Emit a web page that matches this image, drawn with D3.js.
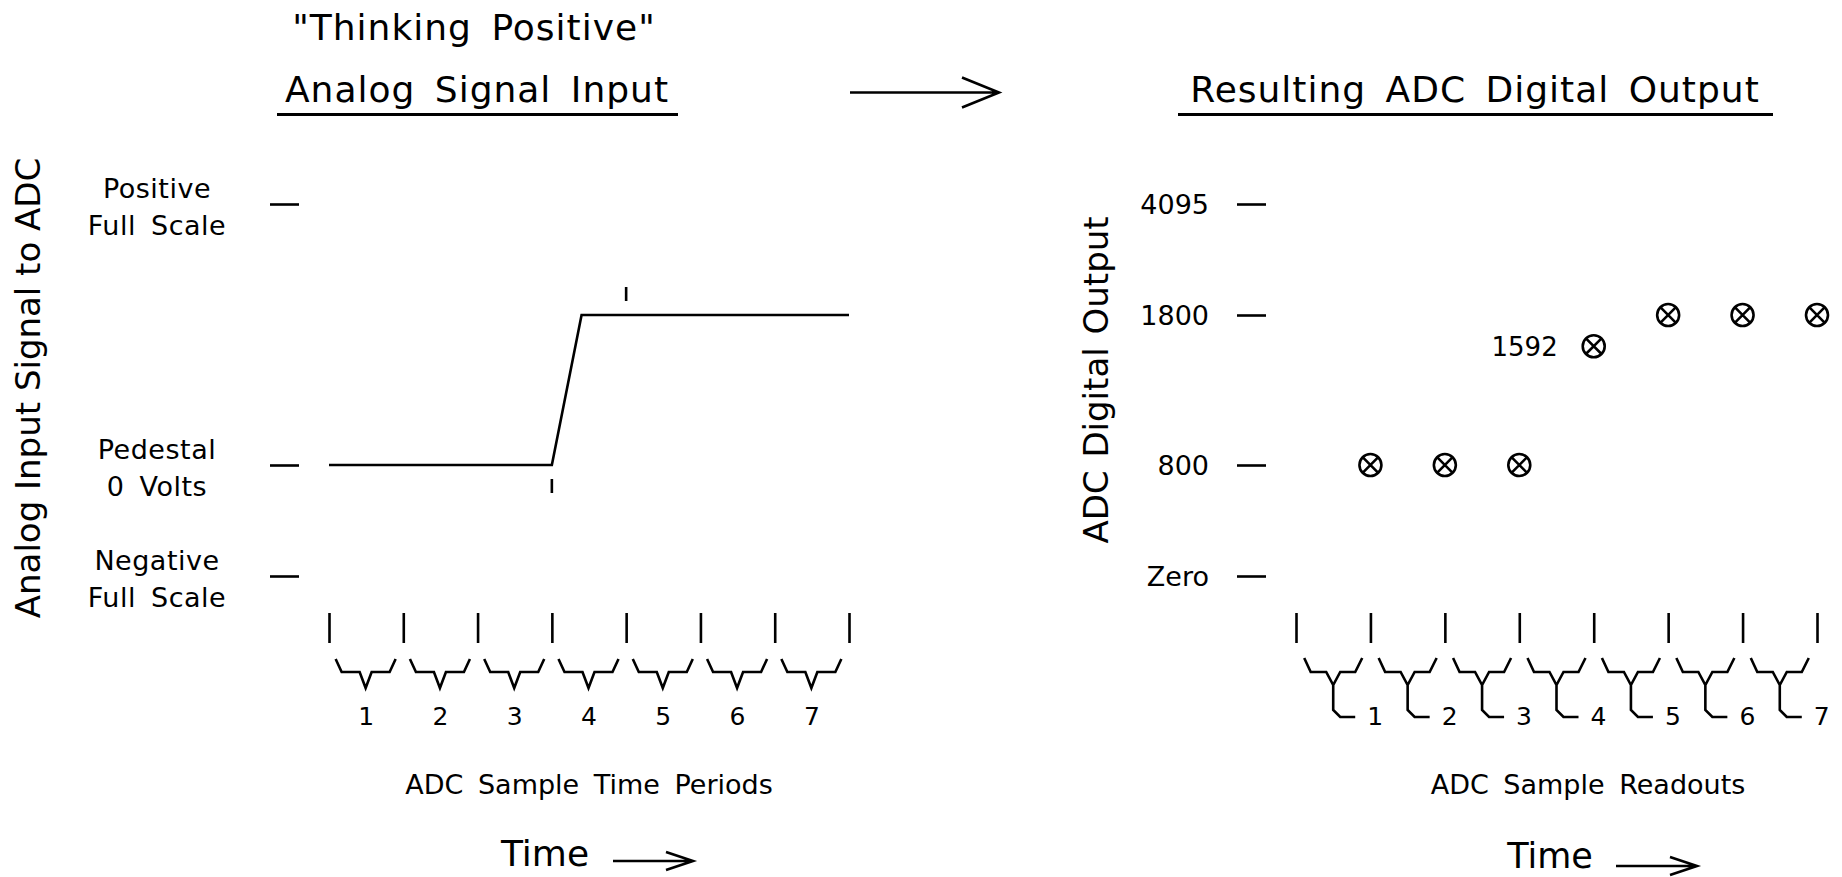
<!DOCTYPE html>
<html>
<head>
<meta charset="utf-8">
<script src="https://cdn.jsdelivr.net/npm/d3@7"></script>
<style>
  body { margin: 0; background: #fff; }
  text { font-family: "DejaVu Sans", sans-serif; fill: #000; }
</style>
</head>
<body>
<div id="chart"></div>
<script>
// sample periods and the values
var periods = [1, 2, 3, 4, 5, 6, 7];
var boundaries = [0, 1, 2, 3, 4, 5, 6, 7];

// analog input, expressed on the same code scale as the ADC
var analogLevels = [4095, 800, 0];
var analogLabels = [["Positive", "Full Scale"], ["Pedestal", "0 Volts"], ["Negative", "Full Scale"]];
var signalTime = [0, 3, 3.4, 7];
var signalCode = [800, 800, 1800, 1800];
var stepMarksBelow = [3];
var stepMarksAbove = [4];

// digital output
var codeTicks = [4095, 1800, 800, 0];
var codeTickLabels = ["4095", "1800", "800", "Zero"];
var readouts = [800, 800, 800, 1592, 1800, 1800, 1800];
var labelledReadout = 4;

var width = 1842,
    height = 877;

var svg = d3.select("#chart")
    .append("svg")
    .attr("width", width)
    .attr("height", height);

// not linear: the picture spaces the levels by hand
var y = d3.scaleLinear()
    .domain([0, 800, 1800, 4095])
    .range([576, 465, 315, 204]);

var xLeft = d3.scaleLinear().domain([0, 7]).range([329, 849]);
var xRight = d3.scaleLinear().domain([0, 7]).range([1296, 1817]);

var sw = 2.6;

function arrow(g, x1, x2, yy, head, half) {
    g.append("path")
        .attr("d", "M" + x1 + "," + yy + "H" + x2 +
              "M" + (x2 - head) + "," + (yy - half) + "L" + x2 + "," + yy + "L" + (x2 - head) + "," + (yy + half))
        .attr("fill", "none")
        .attr("stroke", "#000")
        .attr("stroke-width", sw);
}

function title(txt, cx, yy, underline) {
    svg.append("text")
        .attr("x", cx).attr("y", yy)
        .attr("text-anchor", "middle")
        .style("font-size", "36px")
        .style("letter-spacing", "1px")
        .style("word-spacing", "7px")
        .text(txt);
    if (underline) {
        svg.append("line")
            .attr("x1", underline[0]).attr("x2", underline[1])
            .attr("y1", 114.5).attr("y2", 114.5)
            .attr("stroke", "#000").attr("stroke-width", 3.2);
    }
}

// ---- titles
title("\"Thinking Positive\"", 474, 40, null);
title("Analog Signal Input", 477, 102, [277, 678]);
title("Resulting ADC Digital Output", 1475, 102, [1178, 1773]);
arrow(svg, 850, 999, 92.5, 37, 15);

// ---- left panel
var left = svg.append("g");

left.append("text")
    .attr("transform", "translate(40,388) rotate(-90)")
    .attr("text-anchor", "middle")
    .style("font-size", "34px")
    .text("Analog Input Signal to ADC");

var yAxisL = d3.axisLeft(y)
    .tickValues(analogLevels)
    .tickSize(29)
    .tickFormat("");
left.append("g")
    .attr("transform", "translate(299,0)")
    .call(yAxisL)
    .call(function (g) { g.select(".domain").remove(); })
    .selectAll("line").attr("stroke-width", sw);

analogLabels.forEach(function (lines, i) {
    var v = analogLevels[i];
    var t = left.append("text")
        .attr("text-anchor", "middle")
        .style("font-size", "27px")
        .style("letter-spacing", "0.5px")
        .style("word-spacing", "6px");
    t.append("tspan").attr("x", 157).attr("y", y(v) - 6).text(lines[0]);
    t.append("tspan").attr("x", 157).attr("y", y(v) + 31).text(lines[1]);
});

var signalLine = d3.line()
    .x(function (d, i) { return xLeft(signalTime[i]); })
    .y(function (d) { return y(d); });

left.append("path")
    .datum(signalCode)
    .attr("d", signalLine)
    .attr("fill", "none")
    .attr("stroke", "#000")
    .attr("stroke-width", sw);

left.selectAll(".markBelow")
    .data(stepMarksBelow)
    .enter().append("line")
    .attr("x1", function (d) { return xLeft(d); })
    .attr("x2", function (d) { return xLeft(d); })
    .attr("y1", y(800) + 14).attr("y2", y(800) + 28)
    .attr("stroke", "#000").attr("stroke-width", sw);

left.selectAll(".markAbove")
    .data(stepMarksAbove)
    .enter().append("line")
    .attr("x1", function (d) { return xLeft(d); })
    .attr("x2", function (d) { return xLeft(d); })
    .attr("y1", y(1800) - 28).attr("y2", y(1800) - 14)
    .attr("stroke", "#000").attr("stroke-width", sw);

// period boundaries
function periodTicks(g, x) {
    g.append("g")
        .attr("transform", "translate(0,643)")
        .call(d3.axisTop(x).tickValues(boundaries).tickSize(30).tickFormat(""))
        .call(function (a) { a.select(".domain").remove(); })
        .selectAll("line").attr("stroke-width", sw);
}
periodTicks(left, xLeft);

var braceLeft = d3.line();
left.selectAll(".brace")
    .data(periods)
    .enter().append("path")
    .attr("d", function (p) {
        var cx = xLeft(p - 0.5) - 0.5;
        return braceLeft([[cx - 30, 659], [cx - 24, 672], [cx - 6, 672], [cx, 688],
                          [cx + 6, 672], [cx + 24, 672], [cx + 30, 659]]);
    })
    .attr("fill", "none")
    .attr("stroke", "#000")
    .attr("stroke-width", sw);

left.selectAll(".num")
    .data(periods)
    .enter().append("text")
    .attr("x", function (p) { return xLeft(p - 0.5); })
    .attr("y", 725)
    .attr("text-anchor", "middle")
    .style("font-size", "25px")
    .text(function (p) { return p; });

left.append("text")
    .attr("x", 589).attr("y", 794)
    .attr("text-anchor", "middle")
    .style("font-size", "27px")
    .style("word-spacing", "6px")
    .text("ADC Sample Time Periods");

left.append("text")
    .attr("x", 545).attr("y", 866)
    .attr("text-anchor", "middle")
    .style("font-size", "36px")
    .text("Time");
arrow(left, 613, 693, 861, 27, 9);

// ---- right panel
var right = svg.append("g");

right.append("text")
    .attr("transform", "translate(1108,380) rotate(-90)")
    .attr("text-anchor", "middle")
    .style("font-size", "34px")
    .style("word-spacing", "2px")
    .text("ADC Digital Output");

var yAxisR = d3.axisLeft(y)
    .tickValues(codeTicks)
    .tickSize(29)
    .tickPadding(28)
    .tickFormat(function (d, i) { return codeTickLabels[i]; });
var axR = right.append("g")
    .attr("transform", "translate(1266,0)")
    .call(yAxisR)
    .call(function (g) { g.select(".domain").remove(); });
axR.selectAll("line").attr("stroke-width", sw);
axR.selectAll("text")
    .attr("font-family", null)
    .style("font-size", "27px")
    .attr("dy", "0.36em");

var marks = right.selectAll(".readout")
    .data(readouts)
    .enter().append("g")
    .attr("transform", function (d, i) { return "translate(" + xRight(periods[i]) + "," + y(d) + ")"; });
marks.append("circle")
    .attr("r", 11)
    .attr("fill", "none")
    .attr("stroke", "#000")
    .attr("stroke-width", sw);
marks.append("path")
    .attr("d", "M-7.8,-7.8L7.8,7.8M-7.8,7.8L7.8,-7.8")
    .attr("stroke", "#000")
    .attr("stroke-width", sw);

right.append("text")
    .attr("x", xRight(labelledReadout) - 36)
    .attr("y", y(readouts[labelledReadout - 1]))
    .attr("dy", "0.36em")
    .attr("text-anchor", "end")
    .style("font-size", "26px")
    .text(readouts[labelledReadout - 1]);

periodTicks(right, xRight);

var braceRight = d3.line();
right.selectAll(".brace")
    .data(periods)
    .enter().append("path")
    .attr("d", function (p) {
        var cx = xRight(p - 0.5);
        return braceRight([[cx - 29, 658], [cx - 22.5, 672], [cx - 7, 672], [cx, 685],
                           [cx + 7, 672], [cx + 22, 672], [cx + 29, 658]]) +
               "M" + cx + ",685" + braceRight([[cx, 710], [cx + 7, 717], [cx + 22, 717]]).replace("M", "L");
    })
    .attr("fill", "none")
    .attr("stroke", "#000")
    .attr("stroke-width", sw);

right.selectAll(".num")
    .data(periods)
    .enter().append("text")
    .attr("x", function (p) { return xRight(p - 0.5) + 42; })
    .attr("y", 725)
    .attr("text-anchor", "middle")
    .style("font-size", "25px")
    .text(function (p) { return p; });

right.append("text")
    .attr("x", 1588).attr("y", 794)
    .attr("text-anchor", "middle")
    .style("font-size", "27px")
    .style("word-spacing", "6px")
    .text("ADC Sample Readouts");

right.append("text")
    .attr("x", 1550).attr("y", 868)
    .attr("text-anchor", "middle")
    .style("font-size", "35px")
    .text("Time");
arrow(right, 1616, 1697, 866, 27, 9);
</script>
</body>
</html>
